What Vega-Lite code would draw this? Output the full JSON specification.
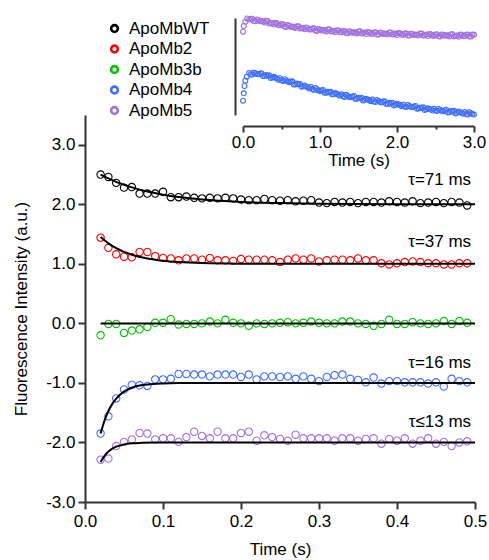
{
"$schema": "https://vega.github.io/schema/vega-lite/v6.json",
"width": 390,
"height": 387,
"autosize": {"type": "none"},
"padding": {"left": 85, "top": 115, "right": 14, "bottom": 58},
"config": {
  "view": {"stroke": null},
  "font": "Liberation Sans",
  "axis": {"grid": false, "domainColor": "#333333", "domainWidth": 2, "tickColor": "#333333", "tickWidth": 2, "labelFont": "Liberation Sans", "labelFontSize": 17, "labelColor": "#000000", "titleFont": "Liberation Sans", "titleFontSize": 17, "titleFontWeight": "normal", "titleColor": "#000000", "labelOverlap": false, "labelFlush": false},
  "legend": {"labelFont": "Liberation Sans", "labelFontSize": 17, "labelColor": "#000000", "symbolStrokeWidth": 2.6, "symbolSize": 45, "padding": 0, "rowPadding": 1.5, "labelOffset": 6}
},
"datasets": {
  "pts": [
    {"series":"ApoMbWT","t":0.02,"y":2.50},{"series":"ApoMbWT","t":0.03,"y":2.46},{"series":"ApoMbWT","t":0.04,"y":2.36},{"series":"ApoMbWT","t":0.05,"y":2.28},{"series":"ApoMbWT","t":0.06,"y":2.29},{"series":"ApoMbWT","t":0.07,"y":2.18},{"series":"ApoMbWT","t":0.08,"y":2.18},{"series":"ApoMbWT","t":0.09,"y":2.18},{"series":"ApoMbWT","t":0.10,"y":2.21},{"series":"ApoMbWT","t":0.11,"y":2.12},{"series":"ApoMbWT","t":0.12,"y":2.12},{"series":"ApoMbWT","t":0.13,"y":2.13},{"series":"ApoMbWT","t":0.14,"y":2.11},{"series":"ApoMbWT","t":0.15,"y":2.10},{"series":"ApoMbWT","t":0.16,"y":2.11},{"series":"ApoMbWT","t":0.17,"y":2.10},{"series":"ApoMbWT","t":0.18,"y":2.11},{"series":"ApoMbWT","t":0.19,"y":2.10},{"series":"ApoMbWT","t":0.20,"y":2.08},{"series":"ApoMbWT","t":0.21,"y":2.07},{"series":"ApoMbWT","t":0.22,"y":2.07},{"series":"ApoMbWT","t":0.23,"y":2.09},{"series":"ApoMbWT","t":0.24,"y":2.07},{"series":"ApoMbWT","t":0.25,"y":2.06},{"series":"ApoMbWT","t":0.26,"y":2.07},{"series":"ApoMbWT","t":0.27,"y":2.05},{"series":"ApoMbWT","t":0.28,"y":2.06},{"series":"ApoMbWT","t":0.29,"y":2.07},{"series":"ApoMbWT","t":0.30,"y":2.03},{"series":"ApoMbWT","t":0.31,"y":2.02},{"series":"ApoMbWT","t":0.32,"y":2.04},{"series":"ApoMbWT","t":0.33,"y":2.03},{"series":"ApoMbWT","t":0.34,"y":2.04},{"series":"ApoMbWT","t":0.35,"y":2.02},{"series":"ApoMbWT","t":0.36,"y":2.04},{"series":"ApoMbWT","t":0.37,"y":2.04},{"series":"ApoMbWT","t":0.38,"y":2.03},{"series":"ApoMbWT","t":0.39,"y":2.05},{"series":"ApoMbWT","t":0.40,"y":2.04},{"series":"ApoMbWT","t":0.41,"y":2.03},{"series":"ApoMbWT","t":0.42,"y":2.05},{"series":"ApoMbWT","t":0.43,"y":2.02},{"series":"ApoMbWT","t":0.44,"y":2.03},{"series":"ApoMbWT","t":0.45,"y":2.04},{"series":"ApoMbWT","t":0.46,"y":2.02},{"series":"ApoMbWT","t":0.47,"y":2.04},{"series":"ApoMbWT","t":0.48,"y":2.03},{"series":"ApoMbWT","t":0.49,"y":1.98},
    {"series":"ApoMb2","t":0.02,"y":1.44},{"series":"ApoMb2","t":0.03,"y":1.27},{"series":"ApoMb2","t":0.04,"y":1.16},{"series":"ApoMb2","t":0.05,"y":1.12},{"series":"ApoMb2","t":0.06,"y":1.11},{"series":"ApoMb2","t":0.07,"y":1.20},{"series":"ApoMb2","t":0.08,"y":1.20},{"series":"ApoMb2","t":0.09,"y":1.13},{"series":"ApoMb2","t":0.10,"y":1.10},{"series":"ApoMb2","t":0.11,"y":1.09},{"series":"ApoMb2","t":0.12,"y":1.06},{"series":"ApoMb2","t":0.13,"y":1.09},{"series":"ApoMb2","t":0.14,"y":1.09},{"series":"ApoMb2","t":0.15,"y":1.07},{"series":"ApoMb2","t":0.16,"y":1.10},{"series":"ApoMb2","t":0.17,"y":1.06},{"series":"ApoMb2","t":0.18,"y":1.06},{"series":"ApoMb2","t":0.19,"y":1.05},{"series":"ApoMb2","t":0.20,"y":1.08},{"series":"ApoMb2","t":0.21,"y":1.07},{"series":"ApoMb2","t":0.22,"y":1.07},{"series":"ApoMb2","t":0.23,"y":1.07},{"series":"ApoMb2","t":0.24,"y":1.06},{"series":"ApoMb2","t":0.25,"y":1.03},{"series":"ApoMb2","t":0.26,"y":1.07},{"series":"ApoMb2","t":0.27,"y":1.09},{"series":"ApoMb2","t":0.28,"y":1.07},{"series":"ApoMb2","t":0.29,"y":1.09},{"series":"ApoMb2","t":0.30,"y":1.04},{"series":"ApoMb2","t":0.31,"y":1.06},{"series":"ApoMb2","t":0.32,"y":1.07},{"series":"ApoMb2","t":0.33,"y":1.07},{"series":"ApoMb2","t":0.34,"y":1.06},{"series":"ApoMb2","t":0.35,"y":1.09},{"series":"ApoMb2","t":0.36,"y":1.06},{"series":"ApoMb2","t":0.37,"y":1.06},{"series":"ApoMb2","t":0.38,"y":1.01},{"series":"ApoMb2","t":0.39,"y":0.99},{"series":"ApoMb2","t":0.40,"y":1.01},{"series":"ApoMb2","t":0.41,"y":1.03},{"series":"ApoMb2","t":0.42,"y":1.04},{"series":"ApoMb2","t":0.43,"y":1.03},{"series":"ApoMb2","t":0.44,"y":1.01},{"series":"ApoMb2","t":0.45,"y":1.01},{"series":"ApoMb2","t":0.46,"y":0.99},{"series":"ApoMb2","t":0.47,"y":0.99},{"series":"ApoMb2","t":0.48,"y":1.01},{"series":"ApoMb2","t":0.49,"y":1.01},
    {"series":"ApoMb3b","t":0.02,"y":-0.20},{"series":"ApoMb3b","t":0.03,"y":-0.01},{"series":"ApoMb3b","t":0.04,"y":-0.01},{"series":"ApoMb3b","t":0.05,"y":-0.16},{"series":"ApoMb3b","t":0.06,"y":-0.12},{"series":"ApoMb3b","t":0.07,"y":-0.10},{"series":"ApoMb3b","t":0.08,"y":-0.06},{"series":"ApoMb3b","t":0.09,"y":0.01},{"series":"ApoMb3b","t":0.10,"y":0.01},{"series":"ApoMb3b","t":0.11,"y":0.07},{"series":"ApoMb3b","t":0.12,"y":-0.02},{"series":"ApoMb3b","t":0.13,"y":-0.01},{"series":"ApoMb3b","t":0.14,"y":-0.01},{"series":"ApoMb3b","t":0.15,"y":0.00},{"series":"ApoMb3b","t":0.16,"y":0.03},{"series":"ApoMb3b","t":0.17,"y":0.00},{"series":"ApoMb3b","t":0.18,"y":0.06},{"series":"ApoMb3b","t":0.19,"y":0.01},{"series":"ApoMb3b","t":0.20,"y":0.00},{"series":"ApoMb3b","t":0.21,"y":-0.04},{"series":"ApoMb3b","t":0.22,"y":0.00},{"series":"ApoMb3b","t":0.23,"y":-0.01},{"series":"ApoMb3b","t":0.24,"y":0.00},{"series":"ApoMb3b","t":0.25,"y":0.01},{"series":"ApoMb3b","t":0.26,"y":0.02},{"series":"ApoMb3b","t":0.27,"y":0.00},{"series":"ApoMb3b","t":0.28,"y":0.01},{"series":"ApoMb3b","t":0.29,"y":0.03},{"series":"ApoMb3b","t":0.30,"y":0.01},{"series":"ApoMb3b","t":0.31,"y":0.00},{"series":"ApoMb3b","t":0.32,"y":0.00},{"series":"ApoMb3b","t":0.33,"y":0.03},{"series":"ApoMb3b","t":0.34,"y":0.03},{"series":"ApoMb3b","t":0.35,"y":0.00},{"series":"ApoMb3b","t":0.36,"y":-0.01},{"series":"ApoMb3b","t":0.37,"y":-0.04},{"series":"ApoMb3b","t":0.38,"y":-0.01},{"series":"ApoMb3b","t":0.39,"y":0.06},{"series":"ApoMb3b","t":0.40,"y":-0.01},{"series":"ApoMb3b","t":0.41,"y":-0.01},{"series":"ApoMb3b","t":0.42,"y":0.02},{"series":"ApoMb3b","t":0.43,"y":0.00},{"series":"ApoMb3b","t":0.44,"y":-0.01},{"series":"ApoMb3b","t":0.45,"y":0.00},{"series":"ApoMb3b","t":0.46,"y":0.04},{"series":"ApoMb3b","t":0.47,"y":-0.01},{"series":"ApoMb3b","t":0.48,"y":0.04},{"series":"ApoMb3b","t":0.49,"y":0.01},
    {"series":"ApoMb4","t":0.02,"y":-1.85},{"series":"ApoMb4","t":0.03,"y":-1.56},{"series":"ApoMb4","t":0.04,"y":-1.26},{"series":"ApoMb4","t":0.05,"y":-1.11},{"series":"ApoMb4","t":0.06,"y":-1.03},{"series":"ApoMb4","t":0.07,"y":-1.04},{"series":"ApoMb4","t":0.08,"y":-1.05},{"series":"ApoMb4","t":0.09,"y":-0.94},{"series":"ApoMb4","t":0.10,"y":-0.94},{"series":"ApoMb4","t":0.11,"y":-0.93},{"series":"ApoMb4","t":0.12,"y":-0.85},{"series":"ApoMb4","t":0.13,"y":-0.85},{"series":"ApoMb4","t":0.14,"y":-0.86},{"series":"ApoMb4","t":0.15,"y":-0.86},{"series":"ApoMb4","t":0.16,"y":-0.89},{"series":"ApoMb4","t":0.17,"y":-0.86},{"series":"ApoMb4","t":0.18,"y":-0.86},{"series":"ApoMb4","t":0.19,"y":-0.86},{"series":"ApoMb4","t":0.20,"y":-0.90},{"series":"ApoMb4","t":0.21,"y":-0.86},{"series":"ApoMb4","t":0.22,"y":-0.94},{"series":"ApoMb4","t":0.23,"y":-0.89},{"series":"ApoMb4","t":0.24,"y":-0.89},{"series":"ApoMb4","t":0.25,"y":-0.90},{"series":"ApoMb4","t":0.26,"y":-0.89},{"series":"ApoMb4","t":0.27,"y":-0.93},{"series":"ApoMb4","t":0.28,"y":-0.89},{"series":"ApoMb4","t":0.29,"y":-0.93},{"series":"ApoMb4","t":0.30,"y":-0.97},{"series":"ApoMb4","t":0.31,"y":-0.90},{"series":"ApoMb4","t":0.32,"y":-0.87},{"series":"ApoMb4","t":0.33,"y":-0.86},{"series":"ApoMb4","t":0.34,"y":-0.93},{"series":"ApoMb4","t":0.35,"y":-0.95},{"series":"ApoMb4","t":0.36,"y":-0.99},{"series":"ApoMb4","t":0.37,"y":-0.91},{"series":"ApoMb4","t":0.38,"y":-1.01},{"series":"ApoMb4","t":0.39,"y":-0.97},{"series":"ApoMb4","t":0.40,"y":-0.97},{"series":"ApoMb4","t":0.41,"y":-0.99},{"series":"ApoMb4","t":0.42,"y":-0.99},{"series":"ApoMb4","t":0.43,"y":-0.99},{"series":"ApoMb4","t":0.44,"y":-1.01},{"series":"ApoMb4","t":0.45,"y":-0.99},{"series":"ApoMb4","t":0.46,"y":-1.06},{"series":"ApoMb4","t":0.47,"y":-0.93},{"series":"ApoMb4","t":0.48,"y":-0.97},{"series":"ApoMb4","t":0.49,"y":-0.99},
    {"series":"ApoMb5","t":0.02,"y":-2.29},{"series":"ApoMb5","t":0.03,"y":-2.27},{"series":"ApoMb5","t":0.04,"y":-2.06},{"series":"ApoMb5","t":0.05,"y":-1.99},{"series":"ApoMb5","t":0.06,"y":-1.95},{"series":"ApoMb5","t":0.07,"y":-1.84},{"series":"ApoMb5","t":0.08,"y":-1.85},{"series":"ApoMb5","t":0.09,"y":-1.95},{"series":"ApoMb5","t":0.10,"y":-1.93},{"series":"ApoMb5","t":0.11,"y":-1.93},{"series":"ApoMb5","t":0.12,"y":-1.99},{"series":"ApoMb5","t":0.13,"y":-1.91},{"series":"ApoMb5","t":0.14,"y":-1.82},{"series":"ApoMb5","t":0.15,"y":-1.89},{"series":"ApoMb5","t":0.16,"y":-1.93},{"series":"ApoMb5","t":0.17,"y":-1.82},{"series":"ApoMb5","t":0.18,"y":-1.93},{"series":"ApoMb5","t":0.19,"y":-1.93},{"series":"ApoMb5","t":0.20,"y":-1.84},{"series":"ApoMb5","t":0.21,"y":-1.82},{"series":"ApoMb5","t":0.22,"y":-1.97},{"series":"ApoMb5","t":0.23,"y":-1.88},{"series":"ApoMb5","t":0.24,"y":-1.91},{"series":"ApoMb5","t":0.25,"y":-1.94},{"series":"ApoMb5","t":0.26,"y":-1.97},{"series":"ApoMb5","t":0.27,"y":-1.87},{"series":"ApoMb5","t":0.28,"y":-1.93},{"series":"ApoMb5","t":0.29,"y":-1.93},{"series":"ApoMb5","t":0.30,"y":-1.93},{"series":"ApoMb5","t":0.31,"y":-1.93},{"series":"ApoMb5","t":0.32,"y":-1.97},{"series":"ApoMb5","t":0.33,"y":-1.93},{"series":"ApoMb5","t":0.34,"y":-1.93},{"series":"ApoMb5","t":0.35,"y":-1.97},{"series":"ApoMb5","t":0.36,"y":-1.94},{"series":"ApoMb5","t":0.37,"y":-1.93},{"series":"ApoMb5","t":0.38,"y":-2.02},{"series":"ApoMb5","t":0.39,"y":-1.94},{"series":"ApoMb5","t":0.40,"y":-1.97},{"series":"ApoMb5","t":0.41,"y":-1.93},{"series":"ApoMb5","t":0.42,"y":-2.02},{"series":"ApoMb5","t":0.43,"y":-1.97},{"series":"ApoMb5","t":0.44,"y":-1.93},{"series":"ApoMb5","t":0.45,"y":-2.02},{"series":"ApoMb5","t":0.46,"y":-1.99},{"series":"ApoMb5","t":0.47,"y":-2.06},{"series":"ApoMb5","t":0.48,"y":-2.00},{"series":"ApoMb5","t":0.49,"y":-1.98}
  ],
  "fits": [
    {"fit":"WT","t":0.02,"y":2.500},{"fit":"WT","t":0.03,"y":2.434},{"fit":"WT","t":0.04,"y":2.377},{"fit":"WT","t":0.05,"y":2.328},{"fit":"WT","t":0.06,"y":2.285},{"fit":"WT","t":0.08,"y":2.215},{"fit":"WT","t":0.10,"y":2.162},{"fit":"WT","t":0.12,"y":2.122},{"fit":"WT","t":0.15,"y":2.080},{"fit":"WT","t":0.20,"y":2.040},{"fit":"WT","t":0.25,"y":2.020},{"fit":"WT","t":0.30,"y":2.010},{"fit":"WT","t":0.40,"y":2.002},{"fit":"WT","t":0.50,"y":2.000},
    {"fit":"M2","t":0.02,"y":1.450},{"fit":"M2","t":0.03,"y":1.343},{"fit":"M2","t":0.04,"y":1.262},{"fit":"M2","t":0.05,"y":1.200},{"fit":"M2","t":0.06,"y":1.153},{"fit":"M2","t":0.08,"y":1.089},{"fit":"M2","t":0.10,"y":1.052},{"fit":"M2","t":0.12,"y":1.030},{"fit":"M2","t":0.15,"y":1.013},{"fit":"M2","t":0.20,"y":1.003},{"fit":"M2","t":0.25,"y":1.001},{"fit":"M2","t":0.50,"y":1.000},
    {"fit":"M3","t":0.02,"y":0.0},{"fit":"M3","t":0.50,"y":0.0},
    {"fit":"M4","t":0.02,"y":-1.850},{"fit":"M4","t":0.025,"y":-1.633},{"fit":"M4","t":0.03,"y":-1.472},{"fit":"M4","t":0.035,"y":-1.352},{"fit":"M4","t":0.04,"y":-1.262},{"fit":"M4","t":0.05,"y":-1.145},{"fit":"M4","t":0.06,"y":-1.081},{"fit":"M4","t":0.07,"y":-1.045},{"fit":"M4","t":0.08,"y":-1.025},{"fit":"M4","t":0.10,"y":-1.008},{"fit":"M4","t":0.12,"y":-1.002},{"fit":"M4","t":0.15,"y":-1.000},{"fit":"M4","t":0.50,"y":-1.000},
    {"fit":"M5","t":0.02,"y":-2.330},{"fit":"M5","t":0.025,"y":-2.225},{"fit":"M5","t":0.03,"y":-2.153},{"fit":"M5","t":0.035,"y":-2.104},{"fit":"M5","t":0.04,"y":-2.071},{"fit":"M5","t":0.05,"y":-2.033},{"fit":"M5","t":0.06,"y":-2.015},{"fit":"M5","t":0.07,"y":-2.007},{"fit":"M5","t":0.09,"y":-2.002},{"fit":"M5","t":0.12,"y":-2.000},{"fit":"M5","t":0.50,"y":-2.000}
  ],
  "notes": [
    {"t":0.495,"y":2.40,"label":"τ=71 ms"},
    {"t":0.495,"y":1.36,"label":"τ=37 ms"},
    {"t":0.495,"y":-0.67,"label":"τ=16 ms"},
    {"t":0.495,"y":-1.66,"label":"τ≤13 ms"}
  ],
  "inset": [
    {"series":"ApoMb4","t":0.0,"v":14.3},{"series":"ApoMb4","t":0.01,"v":21.7},{"series":"ApoMb4","t":0.02,"v":29.0},{"series":"ApoMb4","t":0.03,"v":34.3},{"series":"ApoMb4","t":0.05,"v":38.3},
    {"series":"ApoMb4","t":0.08,"v":41.9},{"series":"ApoMb4","t":0.12,"v":40.4},{"series":"ApoMb4","t":0.16,"v":41.8},{"series":"ApoMb4","t":0.20,"v":40.7},{"series":"ApoMb4","t":0.24,"v":41.8},{"series":"ApoMb4","t":0.28,"v":38.9},{"series":"ApoMb4","t":0.32,"v":39.2},{"series":"ApoMb4","t":0.36,"v":36.9},{"series":"ApoMb4","t":0.40,"v":38.2},{"series":"ApoMb4","t":0.44,"v":36.5},{"series":"ApoMb4","t":0.48,"v":36.8},{"series":"ApoMb4","t":0.52,"v":34.0},{"series":"ApoMb4","t":0.56,"v":34.6},{"series":"ApoMb4","t":0.60,"v":32.8},{"series":"ApoMb4","t":0.64,"v":33.7},{"series":"ApoMb4","t":0.68,"v":30.6},{"series":"ApoMb4","t":0.72,"v":30.7},{"series":"ApoMb4","t":0.76,"v":28.3},{"series":"ApoMb4","t":0.80,"v":29.5},{"series":"ApoMb4","t":0.84,"v":27.8},{"series":"ApoMb4","t":0.88,"v":28.0},{"series":"ApoMb4","t":0.92,"v":25.1},{"series":"ApoMb4","t":0.96,"v":25.8},{"series":"ApoMb4","t":1.00,"v":24.0},{"series":"ApoMb4","t":1.04,"v":25.1},{"series":"ApoMb4","t":1.08,"v":22.3},{"series":"ApoMb4","t":1.12,"v":22.6},{"series":"ApoMb4","t":1.16,"v":20.4},{"series":"ApoMb4","t":1.20,"v":21.9},{"series":"ApoMb4","t":1.24,"v":20.3},{"series":"ApoMb4","t":1.28,"v":20.7},{"series":"ApoMb4","t":1.32,"v":18.1},{"series":"ApoMb4","t":1.36,"v":19.1},{"series":"ApoMb4","t":1.40,"v":17.7},{"series":"ApoMb4","t":1.44,"v":18.9},{"series":"ApoMb4","t":1.48,"v":16.2},{"series":"ApoMb4","t":1.52,"v":16.7},{"series":"ApoMb4","t":1.56,"v":14.6},{"series":"ApoMb4","t":1.60,"v":16.2},{"series":"ApoMb4","t":1.64,"v":14.8},{"series":"ApoMb4","t":1.68,"v":15.4},{"series":"ApoMb4","t":1.72,"v":12.9},{"series":"ApoMb4","t":1.76,"v":13.9},{"series":"ApoMb4","t":1.80,"v":12.5},{"series":"ApoMb4","t":1.84,"v":13.8},{"series":"ApoMb4","t":1.88,"v":11.1},{"series":"ApoMb4","t":1.92,"v":11.6},{"series":"ApoMb4","t":1.96,"v":9.6},{"series":"ApoMb4","t":2.00,"v":11.2},{"series":"ApoMb4","t":2.04,"v":9.9},{"series":"ApoMb4","t":2.08,"v":10.5},{"series":"ApoMb4","t":2.12,"v":8.1},{"series":"ApoMb4","t":2.16,"v":9.1},{"series":"ApoMb4","t":2.20,"v":7.8},{"series":"ApoMb4","t":2.24,"v":9.1},{"series":"ApoMb4","t":2.28,"v":6.5},{"series":"ApoMb4","t":2.32,"v":7.0},{"series":"ApoMb4","t":2.36,"v":5.1},{"series":"ApoMb4","t":2.40,"v":6.7},{"series":"ApoMb4","t":2.44,"v":5.5},{"series":"ApoMb4","t":2.48,"v":6.2},{"series":"ApoMb4","t":2.52,"v":3.9},{"series":"ApoMb4","t":2.56,"v":5.1},{"series":"ApoMb4","t":2.60,"v":3.8},{"series":"ApoMb4","t":2.64,"v":5.3},{"series":"ApoMb4","t":2.68,"v":2.8},{"series":"ApoMb4","t":2.72,"v":3.4},{"series":"ApoMb4","t":2.76,"v":1.6},{"series":"ApoMb4","t":2.80,"v":3.4},{"series":"ApoMb4","t":2.84,"v":2.1},{"series":"ApoMb4","t":2.88,"v":2.9},{"series":"ApoMb4","t":2.92,"v":0.6},{"series":"ApoMb4","t":2.96,"v":1.7},{"series":"ApoMb4","t":3.00,"v":0.5},
    {"series":"ApoMb4","t":0.10,"v":40.5},{"series":"ApoMb4","t":0.14,"v":42.6},{"series":"ApoMb4","t":0.18,"v":41.0},{"series":"ApoMb4","t":0.22,"v":41.5},{"series":"ApoMb4","t":0.26,"v":38.9},{"series":"ApoMb4","t":0.30,"v":39.9},{"series":"ApoMb4","t":0.34,"v":39.7},{"series":"ApoMb4","t":0.38,"v":37.4},{"series":"ApoMb4","t":0.42,"v":37.3},{"series":"ApoMb4","t":0.46,"v":35.3},{"series":"ApoMb4","t":0.50,"v":34.7},{"series":"ApoMb4","t":0.54,"v":35.8},{"series":"ApoMb4","t":0.58,"v":33.4},{"series":"ApoMb4","t":0.62,"v":33.4},{"series":"ApoMb4","t":0.66,"v":30.6},{"series":"ApoMb4","t":0.70,"v":31.4},{"series":"ApoMb4","t":0.74,"v":31.1},{"series":"ApoMb4","t":0.78,"v":28.8},{"series":"ApoMb4","t":0.82,"v":28.6},{"series":"ApoMb4","t":0.86,"v":26.5},{"series":"ApoMb4","t":0.90,"v":25.9},{"series":"ApoMb4","t":0.94,"v":27.0},{"series":"ApoMb4","t":0.98,"v":24.6},{"series":"ApoMb4","t":1.02,"v":24.8},{"series":"ApoMb4","t":1.06,"v":22.2},{"series":"ApoMb4","t":1.10,"v":23.2},{"series":"ApoMb4","t":1.14,"v":23.2},{"series":"ApoMb4","t":1.18,"v":21.0},{"series":"ApoMb4","t":1.22,"v":21.0},{"series":"ApoMb4","t":1.26,"v":19.2},{"series":"ApoMb4","t":1.30,"v":18.7},{"series":"ApoMb4","t":1.34,"v":20.2},{"series":"ApoMb4","t":1.38,"v":18.1},{"series":"ApoMb4","t":1.42,"v":18.5},{"series":"ApoMb4","t":1.46,"v":16.1},{"series":"ApoMb4","t":1.50,"v":17.2},{"series":"ApoMb4","t":1.54,"v":17.3},{"series":"ApoMb4","t":1.58,"v":15.3},{"series":"ApoMb4","t":1.62,"v":15.5},{"series":"ApoMb4","t":1.66,"v":13.8},{"series":"ApoMb4","t":1.70,"v":13.5},{"series":"ApoMb4","t":1.74,"v":15.0},{"series":"ApoMb4","t":1.78,"v":13.0},{"series":"ApoMb4","t":1.82,"v":13.4},{"series":"ApoMb4","t":1.86,"v":11.0},{"series":"ApoMb4","t":1.90,"v":12.2},{"series":"ApoMb4","t":1.94,"v":12.3},{"series":"ApoMb4","t":1.98,"v":10.3},{"series":"ApoMb4","t":2.02,"v":10.5},{"series":"ApoMb4","t":2.06,"v":8.8},{"series":"ApoMb4","t":2.10,"v":8.6},{"series":"ApoMb4","t":2.14,"v":10.1},{"series":"ApoMb4","t":2.18,"v":8.2},{"series":"ApoMb4","t":2.22,"v":8.6},{"series":"ApoMb4","t":2.26,"v":6.3},{"series":"ApoMb4","t":2.30,"v":7.5},{"series":"ApoMb4","t":2.34,"v":7.7},{"series":"ApoMb4","t":2.38,"v":5.7},{"series":"ApoMb4","t":2.42,"v":6.0},{"series":"ApoMb4","t":2.46,"v":4.5},{"series":"ApoMb4","t":2.50,"v":4.4},{"series":"ApoMb4","t":2.54,"v":6.0},{"series":"ApoMb4","t":2.58,"v":4.2},{"series":"ApoMb4","t":2.62,"v":4.8},{"series":"ApoMb4","t":2.66,"v":2.5},{"series":"ApoMb4","t":2.70,"v":3.9},{"series":"ApoMb4","t":2.74,"v":4.2},{"series":"ApoMb4","t":2.78,"v":2.3},{"series":"ApoMb4","t":2.82,"v":2.7},{"series":"ApoMb4","t":2.86,"v":1.2},{"series":"ApoMb4","t":2.90,"v":1.0},{"series":"ApoMb4","t":2.94,"v":2.7},{"series":"ApoMb4","t":2.98,"v":0.9},
    {"series":"ApoMb5","t":0.0,"v":83.3},{"series":"ApoMb5","t":0.01,"v":89.0},{"series":"ApoMb5","t":0.03,"v":93.3},{"series":"ApoMb5","t":0.055,"v":96.5},
    {"series":"ApoMb5","t":0.08,"v":95.4},{"series":"ApoMb5","t":0.12,"v":96.3},{"series":"ApoMb5","t":0.16,"v":93.7},{"series":"ApoMb5","t":0.20,"v":95.0},{"series":"ApoMb5","t":0.24,"v":94.1},{"series":"ApoMb5","t":0.28,"v":92.4},{"series":"ApoMb5","t":0.32,"v":94.1},{"series":"ApoMb5","t":0.36,"v":91.8},{"series":"ApoMb5","t":0.40,"v":90.5},{"series":"ApoMb5","t":0.44,"v":91.7},{"series":"ApoMb5","t":0.48,"v":89.7},{"series":"ApoMb5","t":0.52,"v":90.8},{"series":"ApoMb5","t":0.56,"v":88.1},{"series":"ApoMb5","t":0.60,"v":89.3},{"series":"ApoMb5","t":0.64,"v":88.5},{"series":"ApoMb5","t":0.68,"v":86.9},{"series":"ApoMb5","t":0.72,"v":88.7},{"series":"ApoMb5","t":0.76,"v":86.7},{"series":"ApoMb5","t":0.80,"v":85.7},{"series":"ApoMb5","t":0.84,"v":87.1},{"series":"ApoMb5","t":0.88,"v":85.4},{"series":"ApoMb5","t":0.92,"v":86.7},{"series":"ApoMb5","t":0.96,"v":84.1},{"series":"ApoMb5","t":1.00,"v":85.5},{"series":"ApoMb5","t":1.04,"v":85.0},{"series":"ApoMb5","t":1.08,"v":83.6},{"series":"ApoMb5","t":1.12,"v":85.7},{"series":"ApoMb5","t":1.16,"v":83.7},{"series":"ApoMb5","t":1.20,"v":82.8},{"series":"ApoMb5","t":1.24,"v":84.4},{"series":"ApoMb5","t":1.28,"v":82.7},{"series":"ApoMb5","t":1.32,"v":84.1},{"series":"ApoMb5","t":1.36,"v":81.8},{"series":"ApoMb5","t":1.40,"v":83.3},{"series":"ApoMb5","t":1.44,"v":82.8},{"series":"ApoMb5","t":1.48,"v":81.6},{"series":"ApoMb5","t":1.52,"v":83.7},{"series":"ApoMb5","t":1.56,"v":81.9},{"series":"ApoMb5","t":1.60,"v":81.0},{"series":"ApoMb5","t":1.64,"v":82.7},{"series":"ApoMb5","t":1.68,"v":81.2},{"series":"ApoMb5","t":1.72,"v":82.7},{"series":"ApoMb5","t":1.76,"v":80.4},{"series":"ApoMb5","t":1.80,"v":82.0},{"series":"ApoMb5","t":1.84,"v":81.6},{"series":"ApoMb5","t":1.88,"v":80.4},{"series":"ApoMb5","t":1.92,"v":82.6},{"series":"ApoMb5","t":1.96,"v":80.8},{"series":"ApoMb5","t":2.00,"v":80.0},{"series":"ApoMb5","t":2.04,"v":81.7},{"series":"ApoMb5","t":2.08,"v":80.2},{"series":"ApoMb5","t":2.12,"v":81.7},{"series":"ApoMb5","t":2.16,"v":79.4},{"series":"ApoMb5","t":2.20,"v":81.0},{"series":"ApoMb5","t":2.24,"v":80.6},{"series":"ApoMb5","t":2.28,"v":79.4},{"series":"ApoMb5","t":2.32,"v":81.6},{"series":"ApoMb5","t":2.36,"v":79.8},{"series":"ApoMb5","t":2.40,"v":79.0},{"series":"ApoMb5","t":2.44,"v":80.7},{"series":"ApoMb5","t":2.48,"v":79.3},{"series":"ApoMb5","t":2.52,"v":80.8},{"series":"ApoMb5","t":2.56,"v":78.5},{"series":"ApoMb5","t":2.60,"v":80.2},{"series":"ApoMb5","t":2.64,"v":79.8},{"series":"ApoMb5","t":2.68,"v":78.6},{"series":"ApoMb5","t":2.72,"v":80.8},{"series":"ApoMb5","t":2.76,"v":79.1},{"series":"ApoMb5","t":2.80,"v":78.3},{"series":"ApoMb5","t":2.84,"v":80.2},{"series":"ApoMb5","t":2.88,"v":78.9},{"series":"ApoMb5","t":2.92,"v":80.5},{"series":"ApoMb5","t":2.96,"v":78.4},{"series":"ApoMb5","t":3.00,"v":80.2},
    {"series":"ApoMb5","t":0.10,"v":96.3},{"series":"ApoMb5","t":0.14,"v":94.0},{"series":"ApoMb5","t":0.18,"v":95.6},{"series":"ApoMb5","t":0.22,"v":93.8},{"series":"ApoMb5","t":0.26,"v":93.4},{"series":"ApoMb5","t":0.30,"v":94.2},{"series":"ApoMb5","t":0.34,"v":91.6},{"series":"ApoMb5","t":0.38,"v":92.1},{"series":"ApoMb5","t":0.42,"v":92.3},{"series":"ApoMb5","t":0.46,"v":89.9},{"series":"ApoMb5","t":0.50,"v":90.7},{"series":"ApoMb5","t":0.54,"v":88.4},{"series":"ApoMb5","t":0.58,"v":89.9},{"series":"ApoMb5","t":0.62,"v":88.1},{"series":"ApoMb5","t":0.66,"v":87.8},{"series":"ApoMb5","t":0.70,"v":88.7},{"series":"ApoMb5","t":0.74,"v":86.4},{"series":"ApoMb5","t":0.78,"v":87.1},{"series":"ApoMb5","t":0.82,"v":87.6},{"series":"ApoMb5","t":0.86,"v":85.5},{"series":"ApoMb5","t":0.90,"v":86.5},{"series":"ApoMb5","t":0.94,"v":84.4},{"series":"ApoMb5","t":0.98,"v":86.1},{"series":"ApoMb5","t":1.02,"v":84.5},{"series":"ApoMb5","t":1.06,"v":84.4},{"series":"ApoMb5","t":1.10,"v":85.6},{"series":"ApoMb5","t":1.14,"v":83.4},{"series":"ApoMb5","t":1.18,"v":84.2},{"series":"ApoMb5","t":1.22,"v":84.8},{"series":"ApoMb5","t":1.26,"v":82.7},{"series":"ApoMb5","t":1.30,"v":83.9},{"series":"ApoMb5","t":1.34,"v":81.9},{"series":"ApoMb5","t":1.38,"v":83.8},{"series":"ApoMb5","t":1.42,"v":82.3},{"series":"ApoMb5","t":1.46,"v":82.4},{"series":"ApoMb5","t":1.50,"v":83.6},{"series":"ApoMb5","t":1.54,"v":81.4},{"series":"ApoMb5","t":1.58,"v":82.4},{"series":"ApoMb5","t":1.62,"v":83.0},{"series":"ApoMb5","t":1.66,"v":81.2},{"series":"ApoMb5","t":1.70,"v":82.5},{"series":"ApoMb5","t":1.74,"v":80.6},{"series":"ApoMb5","t":1.78,"v":82.5},{"series":"ApoMb5","t":1.82,"v":81.1},{"series":"ApoMb5","t":1.86,"v":81.2},{"series":"ApoMb5","t":1.90,"v":82.5},{"series":"ApoMb5","t":1.94,"v":80.4},{"series":"ApoMb5","t":1.98,"v":81.4},{"series":"ApoMb5","t":2.02,"v":82.1},{"series":"ApoMb5","t":2.06,"v":80.2},{"series":"ApoMb5","t":2.10,"v":81.5},{"series":"ApoMb5","t":2.14,"v":79.6},{"series":"ApoMb5","t":2.18,"v":81.5},{"series":"ApoMb5","t":2.22,"v":80.1},{"series":"ApoMb5","t":2.26,"v":80.2},{"series":"ApoMb5","t":2.30,"v":81.5},{"series":"ApoMb5","t":2.34,"v":79.4},{"series":"ApoMb5","t":2.38,"v":80.4},{"series":"ApoMb5","t":2.42,"v":81.1},{"series":"ApoMb5","t":2.46,"v":79.2},{"series":"ApoMb5","t":2.50,"v":80.5},{"series":"ApoMb5","t":2.54,"v":78.7},{"series":"ApoMb5","t":2.58,"v":80.6},{"series":"ApoMb5","t":2.62,"v":79.2},{"series":"ApoMb5","t":2.66,"v":79.4},{"series":"ApoMb5","t":2.70,"v":80.7},{"series":"ApoMb5","t":2.74,"v":78.6},{"series":"ApoMb5","t":2.78,"v":79.6},{"series":"ApoMb5","t":2.82,"v":80.4},{"series":"ApoMb5","t":2.86,"v":78.7},{"series":"ApoMb5","t":2.90,"v":80.2},{"series":"ApoMb5","t":2.94,"v":78.5},{"series":"ApoMb5","t":2.98,"v":80.6}
  ]
},
"layer": [
  {
    "layer": [
      {
        "data": {"name": "pts"},
        "mark": {"type": "point", "shape": "circle", "filled": false, "size": 54, "strokeWidth": 1.1, "opacity": 1},
        "encoding": {
          "x": {"field": "t", "type": "quantitative", "scale": {"domain": [0, 0.5], "nice": false, "zero": false},
                "axis": {"title": "Time (s)", "titlePadding": 12, "values": [0,0.05,0.1,0.15,0.2,0.25,0.3,0.35,0.4,0.45,0.5],
                         "labelExpr": "abs(datum.value*10 - round(datum.value*10)) < 0.01 ? format(datum.value, '.1f') : ''",
                         "tickSize": {"condition": {"test": "abs(datum.value*10 - round(datum.value*10)) < 0.01", "value": 7}, "value": 4},
                         "labelPadding": 4}},
          "y": {"field": "y", "type": "quantitative", "scale": {"domain": [-3, 3.5], "nice": false, "zero": false},
                "axis": {"title": "Fluorescence Intensity (a.u.)", "titlePadding": 15, "values": [-3,-2.5,-2,-1.5,-1,-0.5,0,0.5,1,1.5,2,2.5,3,3.5],
                         "labelExpr": "abs(datum.value - round(datum.value)) < 0.01 && datum.value < 3.2 ? (datum.value < 0 ? '-' : '') + format(abs(datum.value), '.1f') : ''",
                         "tickSize": {"condition": {"test": "abs(datum.value - round(datum.value)) < 0.01 && datum.value < 3.2", "value": 7}, "value": 4},
                         "labelPadding": 3}},
          "color": {"field": "series", "type": "nominal",
                    "scale": {"domain": ["ApoMbWT","ApoMb2","ApoMb3b","ApoMb4","ApoMb5"], "range": ["#000000","#ff0000","#00c400","#3f6fff","#a270e0"]},
                    "legend": {"title": null, "orient": "none", "legendX": 21, "legendY": -95}}
        }
      },
      {
        "data": {"name": "fits"},
        "mark": {"type": "line", "color": "#000000", "strokeWidth": 2, "interpolate": "monotone"},
        "encoding": {
          "x": {"field": "t", "type": "quantitative"},
          "y": {"field": "y", "type": "quantitative"},
          "detail": {"field": "fit", "type": "nominal"}
        }
      },
      {
        "data": {"name": "notes"},
        "mark": {"type": "text", "align": "right", "baseline": "middle", "fontSize": 17, "font": "Liberation Sans", "color": "#000000"},
        "encoding": {
          "x": {"field": "t", "type": "quantitative"},
          "y": {"field": "y", "type": "quantitative"},
          "text": {"field": "label", "type": "nominal"}
        }
      }
    ]
  },
  {
    "layer": [
      {
        "data": {"name": "inset"},
        "mark": {"type": "point", "shape": "circle", "filled": false, "size": 24, "strokeWidth": 1.1, "opacity": 1},
        "encoding": {
          "x": {"field": "t", "type": "quantitative", "scale": {"domain": [0, 3], "range": [158, 389], "nice": false, "zero": false},
                "axis": {"orient": "bottom", "offset": -376, "title": "Time (s)", "titlePadding": 2, "values": [0,0.5,1,1.5,2,2.5,3],
                         "labelExpr": "abs(datum.value - round(datum.value)) < 0.01 ? format(datum.value, '.1f') : ''",
                         "tickSize": {"condition": {"test": "abs(datum.value - round(datum.value)) < 0.01", "value": 6}, "value": 3},
                         "labelPadding": 2}},
          "y": {"field": "v", "type": "quantitative", "scale": {"domain": [0, 97], "range": [0, -97], "nice": false, "zero": false},
                "axis": {"orient": "left", "offset": -150, "title": null, "ticks": false, "labels": false, "domain": true}},
          "color": {"field": "series", "type": "nominal", "legend": null}
        }
      }
    ]
  }
],
"resolve": {"scale": {"x": "independent", "y": "independent"}, "axis": {"x": "independent", "y": "independent"}}
}
